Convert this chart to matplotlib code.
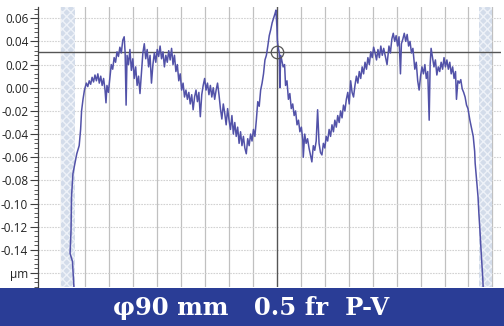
import numpy as np
import matplotlib
matplotlib.use("Agg")
import matplotlib.pyplot as plt
import matplotlib.ticker as ticker
from matplotlib.patches import Rectangle

# profile position (mm) and height (um)
pos_mm = [-42.4, -42.7, -43.2, -43.0, -42.9, -42.6, -41.8, -41.3, -41.0, -40.8,
          -40.5, -40.2, -39.8, -39.5, -39.2, -38.9, -38.6, -38.3, -38.0, -37.7,
          -37.4, -37.1, -36.8, -36.5, -36.2, -35.9, -35.7, -35.5, -35.2, -34.9,
          -34.6, -34.3, -34.0, -33.7, -33.4, -33.1, -32.8, -32.5, -32.2, -31.9,
          -31.7, -31.5, -31.3, -31.0, -30.7, -30.4, -30.1, -29.8, -29.5, -29.2,
          -28.9, -28.6, -28.3, -28.0, -27.7, -27.4, -27.1, -26.8, -26.5, -26.2,
          -25.9, -25.6, -25.3, -25.0, -24.7, -24.4, -24.1, -23.8, -23.5, -23.2,
          -22.9, -22.6, -22.3, -22.0, -21.7, -21.4, -21.1, -20.8, -20.5, -20.2,
          -19.9, -19.6, -19.3, -19.0, -18.7, -18.4, -18.1, -17.8, -17.5, -17.2,
          -16.9, -16.6, -16.3, -16.0, -15.7, -15.4, -15.1, -14.8, -14.5, -14.2,
          -13.9, -13.6, -13.3, -13.0, -12.7, -12.4, -12.1, -11.8, -11.5, -11.2,
          -10.9, -10.6, -10.3, -10.0, -9.7, -9.4, -9.1, -8.8, -8.5, -8.2,
          -7.9, -7.6, -7.3, -7.0, -6.7, -6.4, -6.1, -5.8, -5.5, -5.2,
          -4.9, -4.6, -4.3, -4.0, -3.7, -3.4, -3.1, -2.8, -2.5, -2.2,
          -1.9, -1.6, -1.3, -1.0, -0.7, -0.4, -0.2, 0.0, 0.1, 0.3,
          0.5, 0.6, 0.8, 1.0, 1.3, 1.6, 1.8, 2.1, 2.4, 2.7,
          3.0, 3.3, 3.6, 3.9, 4.2, 4.5, 4.8, 5.1, 5.4, 5.5,
          5.8, 6.1, 6.4, 6.7, 7.0, 7.3, 7.6, 7.9, 8.2, 8.5,
          8.8, 9.1, 9.4, 9.7, 10.0, 10.3, 10.6, 10.9, 11.2, 11.5,
          11.8, 12.1, 12.4, 12.7, 13.0, 13.3, 13.6, 13.9, 14.2, 14.5,
          14.8, 15.1, 15.4, 15.7, 16.0, 16.3, 16.6, 16.9, 17.2, 17.5,
          17.8, 18.1, 18.4, 18.7, 19.0, 19.3, 19.6, 19.9, 20.2, 20.5,
          20.8, 21.1, 21.4, 21.7, 22.0, 22.3, 23.0, 23.4, 23.7, 24.0,
          24.3, 24.6, 24.9, 25.2, 25.5, 25.8, 26.0, 26.3, 26.6, 26.9,
          27.2, 27.5, 27.8, 28.1, 28.4, 28.8, 29.1, 29.4, 29.7, 30.0,
          30.3, 30.6, 30.9, 31.2, 31.5, 31.8, 32.0, 32.2, 32.5, 32.8,
          33.1, 33.4, 33.7, 34.0, 34.3, 34.6, 34.9, 35.2, 35.5, 35.8,
          36.1, 36.4, 36.7, 37.0, 37.3, 37.5, 37.8, 38.1, 38.4, 38.7,
          39.0, 39.3, 39.6, 39.9, 40.3, 40.7, 41.0, 41.3, 41.4, 41.7,
          42.0, 42.2, 42.4, 42.6, 42.8, 43.0, 43.1]

height_um = [-0.172, -0.150, -0.143, -0.123, -0.094, -0.074, -0.057, -0.050, -0.036, -0.020,
             -0.010, -0.002, 0.004, 0.001, 0.006, 0.003, 0.009, 0.005, 0.011, 0.006,
             0.012, 0.004, 0.010, 0.002, 0.008, -0.002, -0.013, 0.002, -0.004, 0.008,
             0.020, 0.016, 0.026, 0.022, 0.031, 0.027, 0.035, 0.030, 0.041, 0.044,
             0.030, -0.015, 0.028, 0.020, 0.033, 0.015, 0.025, 0.008, 0.018, 0.002,
             0.010, -0.005, 0.012, 0.030, 0.038, 0.025, 0.033, 0.018, 0.028, 0.004,
             0.020, 0.030, 0.022, 0.033, 0.027, 0.036, 0.025, 0.031, 0.018, 0.028,
             0.022, 0.032, 0.024, 0.034, 0.020, 0.028, 0.014, 0.020, 0.006, 0.012,
             -0.002, 0.004, -0.008, -0.002, -0.010, -0.004, -0.014, -0.006, -0.019, -0.008,
             -0.002, -0.012, -0.004, -0.025, -0.006, 0.002, 0.008, -0.002, 0.004, -0.006,
             0.002, -0.008, 0.000, -0.010, -0.002, 0.004, -0.006, -0.018, -0.027, -0.014,
             -0.022, -0.032, -0.018, -0.028, -0.036, -0.024, -0.040, -0.030, -0.042, -0.034,
             -0.048, -0.038, -0.050, -0.042, -0.052, -0.057, -0.044, -0.050, -0.040, -0.046,
             -0.036, -0.042, -0.028, -0.012, -0.016, -0.002, 0.004, 0.012, 0.024, 0.028,
             0.036, 0.045, 0.050, 0.056, 0.060, 0.064, 0.067, 0.052, 0.040, 0.034,
             0.030, 0.000, 0.028, 0.024, 0.018, 0.020, 0.002, 0.006, -0.010, -0.005,
             -0.018, -0.014, -0.024, -0.020, -0.032, -0.028, -0.038, -0.034, -0.045, -0.060,
             -0.040, -0.048, -0.044, -0.052, -0.058, -0.064, -0.050, -0.054, -0.046, -0.019,
             -0.048, -0.056, -0.058, -0.048, -0.052, -0.042, -0.046, -0.036, -0.042, -0.032,
             -0.038, -0.028, -0.034, -0.024, -0.030, -0.020, -0.026, -0.015, -0.020, -0.010,
             -0.004, -0.014, 0.006, -0.004, -0.008, 0.002, 0.010, 0.004, 0.014, 0.008,
             0.018, 0.012, 0.022, 0.016, 0.026, 0.020, 0.031, 0.026, 0.035, 0.030,
             0.024, 0.033, 0.026, 0.036, 0.028, 0.034, 0.020, 0.036, 0.030, 0.042,
             0.047, 0.040, 0.045, 0.036, 0.044, 0.012, 0.038, 0.042, 0.047, 0.040,
             0.046, 0.036, 0.040, 0.030, 0.034, 0.016, 0.022, 0.006, -0.002, 0.010,
             0.018, 0.012, 0.020, 0.008, 0.014, -0.028, 0.020, 0.034, 0.026, 0.018,
             0.024, 0.011, 0.018, 0.014, 0.022, 0.016, 0.026, 0.018, 0.024, 0.016,
             0.022, 0.012, 0.018, 0.008, 0.014, -0.010, 0.006, 0.004, 0.007, -0.001,
             -0.004, -0.008, -0.015, -0.018, -0.028, -0.036, -0.042, -0.055, -0.065, -0.080,
             -0.094, -0.110, -0.123, -0.138, -0.151, -0.165, -0.175]

ytick_vals = [0.06, 0.04, 0.02, 0.00, -0.02, -0.04, -0.06, -0.08, -0.10, -0.12, -0.14, -0.16]
ytick_text = ['0.06', '0.04', '0.02', '0.00', '-0.02', '-0.04', '-0.06', '-0.08',
              '-0.10', '-0.12', '-0.14', 'µm']
grid_x = [-45, -40, -35, -30, -25, -20, -15, -10, -5, 5, 10, 15, 20, 25, 30, 35, 40, 45]
aperture_bands = [(-45.0, -42.2), (42.2, 45.0)]
cursor_x = 0.0
cursor_y = 0.031
banner_text = 'φ90 mm   0.5 fr  P-V'

plt.rcParams['axes.unicode_minus'] = False
plt.rcParams['font.family'] = ['Open Sans', 'DejaVu Sans']

fig = plt.figure(figsize=(5.04, 3.26), dpi=100)
ax = fig.add_axes([38/504, 39/326, 463/504, 280/326])

# grid
for g in grid_x:
    ax.axvline(g, color='#c0c0c0', lw=0.9, zorder=0)
for v in ytick_vals:
    ax.axhline(v, color='#d2d2d2', lw=0.8, ls=(0, (1.5, 1)), zorder=0)

# aperture edge bands
for a, b in aperture_bands:
    ax.axvspan(a, b, facecolor='#d3dcea', edgecolor='#eef2f8', hatch='xxxx', lw=0, zorder=1)

ax.plot(pos_mm, height_um, color='#5252a8', lw=1.1, zorder=3)

# cursor
ax.axvline(cursor_x, color='#555555', lw=1.0, zorder=2)
ax.axhline(cursor_y, color='#555555', lw=1.0, zorder=2)
ax.plot([cursor_x], [cursor_y], marker='o', ms=9, mfc='none', mec='#555555', mew=0.9, zorder=4)

ax.set_xlim(-49.9, 46.8)
ax.set_ylim(-0.172, 0.0697)

ax.yaxis.set_major_locator(ticker.FixedLocator(ytick_vals))
ax.yaxis.set_major_formatter(ticker.FixedFormatter(ytick_text))
ax.yaxis.set_minor_locator(ticker.MultipleLocator(0.004))
ax.tick_params(axis='y', which='major', length=6, width=0.8, color='#404040',
               labelsize=8.5, labelcolor='#222222', pad=1)
ax.tick_params(axis='y', which='minor', length=3, width=0.6, color='#404040')
ax.set_xticks([])

for s in ['top', 'right', 'bottom']:
    ax.spines[s].set_visible(False)
ax.spines['left'].set_color('#404040')
ax.spines['left'].set_linewidth(0.9)

# title banner
fig.patches.append(Rectangle((0, 0), 1, 38/326, transform=fig.transFigure,
                             facecolor='#2a3d96', edgecolor='none', zorder=0))
fig.text(251/504, 18/326, banner_text, color='white', fontsize=17.5, fontweight='bold',
         family=['DejaVu Serif'], ha='center', va='center')

fig.savefig('out.png', dpi=100)
